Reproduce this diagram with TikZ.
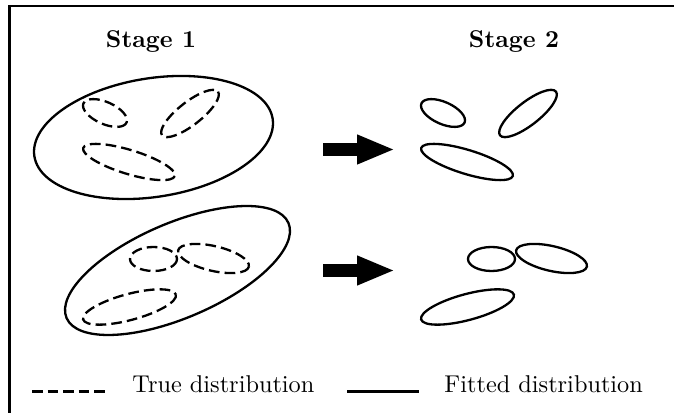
\documentclass[tikz,border=0pt]{standalone}
\usetikzlibrary{arrows.meta}
\begin{document}
\begin{tikzpicture}[x=0.4115pt,y=-0.4115pt,
  fitted/.style={line width=0.95pt},
  truedist/.style={line width=0.95pt,dash pattern=on 4.4pt off 2.1pt},
  frameline/.style={line width=1.1pt},
  bigarrow/.style={line width=4.95pt,-{Triangle[length=15.6pt,width=11.1pt]}},
  lbl/.style={inner sep=0pt,font=\bfseries},
  legtext/.style={inner sep=0pt,anchor=base west}]
\useasboundingbox (0,0) rectangle (674,413);
% frame
\coordinate (fr1) at (9.5,413);
\coordinate (fr2) at (9.5,6);
\coordinate (fr3) at (674,6);
\draw[frameline] (fr1) -- (fr2) -- (fr3);
% titles
\node[lbl,anchor=base] (s1) at (151,48) {Stage 1};
\node[lbl,anchor=base] (s2) at (514,48) {Stage 2};
% Stage 1 top
\draw[fitted,rotate around={9:(153.5,137.5)}] (153.5,137.5) ellipse [x radius=120.6, y radius=59.3];
\draw[truedist,rotate around={-24:(105,113)}] (105,113) ellipse [x radius=23.6, y radius=11];
\draw[truedist,rotate around={38:(190,113.5)}] (190,113.5) ellipse [x radius=35.5, y radius=11.5];
\draw[truedist,rotate around={-17:(129,162)}] (129,162) ellipse [x radius=47.9, y radius=12];
% Stage 1 bottom
\draw[fitted,rotate around={23.2:(177.5,270.5)}] (177.5,270.5) ellipse [x radius=120.7, y radius=47.4];
\draw[truedist] (153.5,259) ellipse [x radius=23.5, y radius=12];
\draw[truedist,rotate around={-13:(213.5,258.5)}] (213.5,258.5) ellipse [x radius=36.3, y radius=12.4];
\draw[truedist,rotate around={15:(129.5,307)}] (129.5,307) ellipse [x radius=48, y radius=13];
% Stage 2 top
\draw[fitted,rotate around={-24:(443,113)}] (443,113) ellipse [x radius=23.6, y radius=11];
\draw[fitted,rotate around={38:(528,113.5)}] (528,113.5) ellipse [x radius=35.5, y radius=11.5];
\draw[fitted,rotate around={-17:(467,162)}] (467,162) ellipse [x radius=47.9, y radius=12];
% Stage 2 bottom
\draw[fitted] (491.5,259) ellipse [x radius=23.5, y radius=12];
\draw[fitted,rotate around={-13:(551.5,258.5)}] (551.5,258.5) ellipse [x radius=36.3, y radius=12.4];
\draw[fitted,rotate around={15:(467.5,307)}] (467.5,307) ellipse [x radius=48, y radius=13];
% arrows
\coordinate (a1s) at (323,149.5);
\coordinate (a1e) at (395,149.5);
\coordinate (a2s) at (323,270.5);
\coordinate (a2e) at (395,270.5);
\draw[bigarrow] (a1s) -- (a1e);
\draw[bigarrow] (a2s) -- (a2e);
% legend
\coordinate (l1s) at (32,391.7);
\coordinate (l1e) at (105,391.7);
\coordinate (l2s) at (347,391.7);
\coordinate (l2e) at (419,391.7);
\draw[frameline,dash pattern=on 4.4pt off 2pt] (l1s) -- (l1e);
\draw[frameline] (l2s) -- (l2e);
\node[legtext] (t1) at (132,392) {True distribution};
\node[legtext] (t2) at (444,392) {Fitted distribution};
\end{tikzpicture}
\end{document}
